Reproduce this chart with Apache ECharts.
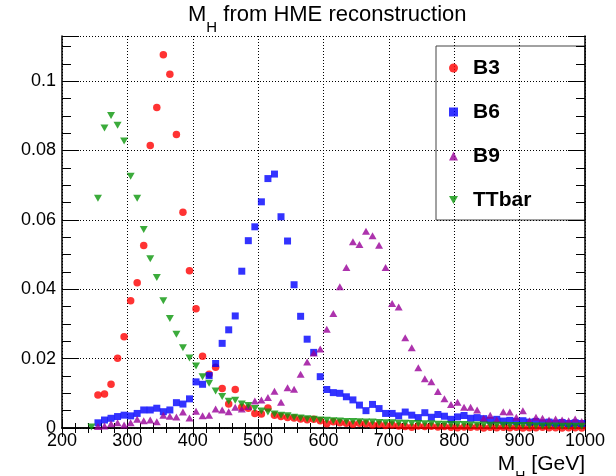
<!DOCTYPE html>
<html>
<head>
<meta charset="utf-8">
<script src="https://cdn.jsdelivr.net/npm/echarts@6/dist/echarts.min.js"></script>
<style>
  html, body { margin: 0; padding: 0; background: #fff; }
  #chart { width: 616px; height: 476px; }
</style>
</head>
<body>
<div id="chart"></div>
<script>
// bin centres, 10 GeV bins
var bins = [245, 255, 265, 275, 285, 295, 305, 315, 325, 335, 345, 355, 365, 375, 385, 395,
    405, 415, 425, 435, 445, 455, 465, 475, 485, 495, 505, 515, 525, 535, 545, 555, 565, 575, 585, 595,
    605, 615, 625, 635, 645, 655, 665, 675, 685, 695, 705, 715, 725, 735, 745, 755, 765, 775, 785, 795,
    805, 815, 825, 835, 845, 855, 865, 875, 885, 895, 905, 915, 925, 935, 945, 955, 965, 975, 985, 995];

var b3 = [null, 0.0095, 0.0098, 0.0126, 0.0201, 0.0263, 0.0367, 0.0419, 0.0526, 0.0814, 0.0924, 0.1076, 0.1020, 0.0846, 0.0622, 0.0453,
    0.0344, 0.0207, 0.0155, 0.0175, 0.0114, 0.0069, 0.0111, 0.0060, 0.0057, 0.0042, 0.0040, 0.0058, 0.0037, 0.0033, 0.0030, 0.0029, 0.0026, 0.0024, 0.0025, 0.0021,
    0.0012, 0.0018, 0.0015, 0.0014, 0.0011, 0.0014, 0.0012, 0.0009, 0.0011, 0.0007, 0.0009, 0.0006, 0.0004, 0.0002, 0.0006, 0.0004, 0.0005, 0.0003, 0.0004, 0.0002,
    0.0001, 0.0003, 0.0002, 0.0003, 0.0000, 0.0002, 0.0001, 0.0002, 0.0001, 0.0002, 0.0000, 0.0001, 0.0001, 0.0002, 0.0001, 0.0001, 0.0000, 0.0001, 0.0001, 0.0000];

var b6 = [null, 0.0015, 0.0023, 0.0028, 0.0033, 0.0037, 0.0035, 0.0042, 0.0052, 0.0052, 0.0057, 0.0047, 0.0052, 0.0073, 0.0069, 0.0084,
    0.0133, 0.0126, 0.0151, 0.0186, 0.0244, 0.0283, 0.0323, 0.0452, 0.0540, 0.0580, 0.0652, 0.0719, 0.0732, 0.0609, 0.0539, 0.0413, 0.0322, 0.0256, 0.0218, 0.0148,
    0.0111, 0.0102, 0.0100, 0.0090, 0.0081, 0.0066, 0.0050, 0.0068, 0.0056, 0.0042, 0.0042, 0.0035, 0.0046, 0.0037, 0.0030, 0.0044, 0.0031, 0.0039, 0.0034, 0.0025,
    0.0032, 0.0036, 0.0028, 0.0030, 0.0027, 0.0022, 0.0025, 0.0020, 0.0022, 0.0019, 0.0021, 0.0017, 0.0019, 0.0015, 0.0017, 0.0014, 0.0016, 0.0013, 0.0015, 0.0013];

var b9 = [null, 0.0004, 0.0006, 0.0012, 0.0015, 0.0009, 0.0015, 0.0025, 0.0021, 0.0023, 0.0018, 0.0037, 0.0034, 0.0032, 0.0046, 0.0029,
    0.0048, 0.0035, 0.0037, 0.0055, 0.0052, 0.0047, 0.0060, 0.0055, 0.0062, 0.0078, 0.0081, 0.0088, 0.0106, 0.0074, 0.0116, 0.0112, 0.0155, 0.0190, 0.0216, 0.0228,
    0.0285, 0.0330, 0.0407, 0.0463, 0.0537, 0.0529, 0.0567, 0.0554, 0.0527, 0.0463, 0.0359, 0.0349, 0.0260, 0.0231, 0.0174, 0.0142, 0.0133, 0.0105, 0.0084, 0.0068,
    0.0074, 0.0060, 0.0060, 0.0052, 0.0028, 0.0037, 0.0023, 0.0047, 0.0046, 0.0031, 0.0050, 0.0021, 0.0031, 0.0028, 0.0023, 0.0026, 0.0023, 0.0021, 0.0026, 0.0019];

var ttbar = [0.0003, 0.0662, 0.0865, 0.0901, 0.0873, 0.0827, 0.0726, 0.0662, 0.0572, 0.0488, 0.0434, 0.0367, 0.0316, 0.0270, 0.0231, 0.0202,
    0.0179, 0.0148, 0.0129, 0.0107, 0.0091, 0.0077, 0.0080, 0.0069, 0.0065, 0.0056, 0.0049, 0.0046, 0.0040, 0.0037, 0.0035, 0.0031, 0.0029, 0.0027, 0.0025, 0.0023,
    0.0022, 0.0021, 0.0020, 0.0019, 0.0019, 0.0018, 0.0017, 0.0017, 0.0016, 0.0015, 0.0015, 0.0014, 0.0014, 0.0013, 0.0013, 0.0012, 0.0012, 0.0011, 0.0011, 0.0010,
    0.0010, 0.0010, 0.0009, 0.0009, 0.0009, 0.0008, 0.0008, 0.0008, 0.0007, 0.0007, 0.0007, 0.0007, 0.0006, 0.0006, 0.0006, 0.0006, 0.0005, 0.0005, 0.0005, 0.0005];

var names = ['B3', 'B6', 'B9', 'TTbar'];
var colors = ['#ff0000', '#0000ff', '#990099', '#0a960a'];

function pairs(vals) {
    var out = [];
    for (var i = 0; i < bins.length; i++) {
        if (vals[i] !== null) out.push([bins[i], vals[i]]);
    }
    return out;
}

var chart = echarts.init(document.getElementById('chart'));
var font = '"Liberation Sans", Arial, Helvetica, sans-serif';

var frameX = {
    type: 'value', min: 200, max: 1000, interval: 100,
    axisLine: { show: true, lineStyle: { color: '#000', width: 1.5 } },
    axisTick: { show: true, inside: true, length: 9, lineStyle: { color: '#000', width: 1 } },
    minorTick: { show: true, splitNumber: 5, length: 5, lineStyle: { color: '#000', width: 1 } },
    splitLine: { show: false }
};
var frameY = {
    type: 'value', min: 0, max: 0.113, interval: 0.02,
    axisLine: { show: true, lineStyle: { color: '#000', width: 1.5 } },
    axisTick: { show: true, inside: true, length: 17, lineStyle: { color: '#000', width: 1 } },
    minorTick: { show: true, splitNumber: 4, length: 9, lineStyle: { color: '#000', width: 1 } },
    splitLine: { show: false }
};

var option = {
    animation: false,
    backgroundColor: '#fff',
    textStyle: { fontFamily: font },
    grid: { left: 62, right: 31, top: 36, bottom: 48 },
    xAxis: [
        echarts.util.merge({
            position: 'bottom',
            axisLabel: {
                show: true, fontSize: 18, color: '#000', margin: 4, fontFamily: font,
                formatter: function (v) { return String(v); }
            },
            splitLine: { show: true, lineStyle: { color: '#000', width: 1, type: [1, 2] } }
        }, frameX, false),
        echarts.util.merge({ position: 'top', axisLabel: { show: false } }, frameX, false)
    ],
    yAxis: [
        echarts.util.merge({
            position: 'left',
            axisLabel: { show: true, fontSize: 18, color: '#000', margin: 6, showMaxLabel: false, fontFamily: font },
            splitLine: { show: true, lineStyle: { color: '#000', width: 1, type: [1, 2] } }
        }, frameY, false),
        echarts.util.merge({ position: 'right', axisLabel: { show: false } }, frameY, false)
    ],
    legend: {
        orient: 'vertical',
        left: 449, top: 57,
        padding: 0,
        itemWidth: 9, itemHeight: 9,
        itemGap: 22,
        data: names,
        textStyle: { fontSize: 21, fontWeight: 'bold', color: '#000', lineHeight: 22, padding: [0, 0, 0, 10], fontFamily: font }
    },
    graphic: [
        {
            type: 'rect', z: 0,
            shape: { x: 436, y: 46, width: 149, height: 174 },
            style: { fill: '#fff', stroke: '#444', lineWidth: 1 }
        },
        {
            type: 'text', left: 188, top: 4,
            style: {
                text: '{m|M}{s|H}{m| from HME reconstruction}',
                fill: '#000',
                rich: {
                    m: { fontSize: 22, fontFamily: font, color: '#000' },
                    s: { fontSize: 15, fontFamily: font, color: '#000', padding: [26, 0, 0, 0] }
                }
            }
        },
        {
            type: 'text', right: 31, top: 454,
            style: {
                text: '{m|M}{s|H}{m| [GeV]}',
                fill: '#000',
                rich: {
                    m: { fontSize: 21, fontFamily: font, color: '#000' },
                    s: { fontSize: 14, fontFamily: font, color: '#000', padding: [26, 0, 0, 0] }
                }
            }
        }
    ],
    series: [
        { name: 'B3', type: 'scatter', symbol: 'circle', symbolSize: 7.5, data: pairs(b3), itemStyle: { color: colors[0] } },
        { name: 'B6', type: 'scatter', symbol: 'rect', symbolSize: 7, data: pairs(b6), itemStyle: { color: colors[1] } },
        { name: 'B9', type: 'scatter', symbol: 'triangle', symbolSize: [8, 7], data: pairs(b9), itemStyle: { color: colors[2] } },
        { name: 'TTbar', type: 'scatter', symbol: 'path://M0,0L2,0L1,1.8Z', symbolSize: [8, 7], data: pairs(ttbar), itemStyle: { color: colors[3] } }
    ]
};

chart.setOption(option);
</script>
</body>
</html>
